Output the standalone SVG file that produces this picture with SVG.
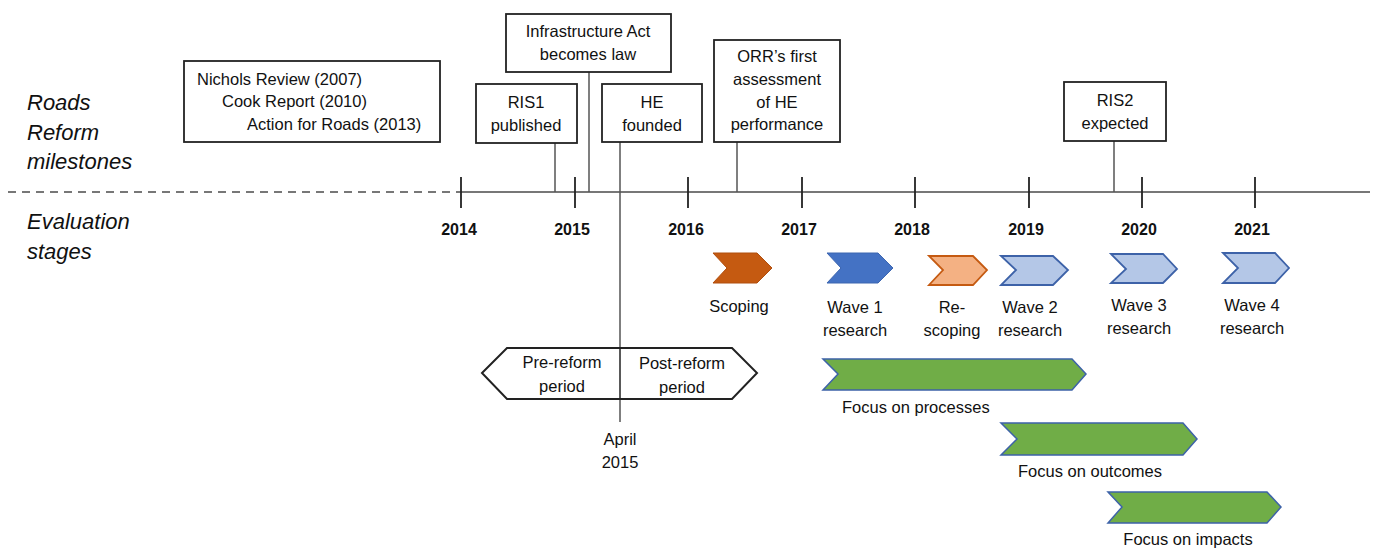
<svg xmlns="http://www.w3.org/2000/svg" width="1377" height="549" viewBox="0 0 1377 549">
<style>
text{font-family:"Liberation Sans",Arial,sans-serif;font-size:16.5px;fill:#111;}
.side{font-style:italic;font-size:22px;}
.yr{font-weight:bold;font-size:16px;text-anchor:middle;}
.c{text-anchor:middle;}
.box{fill:#fff;stroke:#222;stroke-width:1.8;}
.lead{stroke:#555;stroke-width:1.5;fill:none;}
.tick{stroke:#222;stroke-width:1.8;}
.green{fill:#70AD47;stroke:#3D62A8;stroke-width:1.5;}
.light{fill:#B4C7E7;stroke:#3D62A8;stroke-width:1.8;}
</style>
<rect width="1377" height="549" fill="#fff"/>
<g id="side-labels">
<text class="side" x="27" y="110">Roads</text>
<text class="side" x="27" y="140">Reform</text>
<text class="side" x="27" y="169">milestones</text>
<text class="side" x="27" y="229">Evaluation</text>
<text class="side" x="27" y="259">stages</text>
</g>
<g id="axis">
<line x1="8" y1="192" x2="460" y2="192" stroke="#777" stroke-width="2" stroke-dasharray="8,6"/>
<line x1="460" y1="192" x2="1370" y2="192" stroke="#777" stroke-width="2"/>
<line class="tick" x1="461" y1="177" x2="461" y2="208"/>
<line class="tick" x1="575" y1="177" x2="575" y2="208"/>
<line class="tick" x1="688" y1="177" x2="688" y2="208"/>
<line class="tick" x1="802" y1="177" x2="802" y2="208"/>
<line class="tick" x1="915" y1="177" x2="915" y2="208"/>
<line class="tick" x1="1029" y1="177" x2="1029" y2="208"/>
<line class="tick" x1="1142" y1="177" x2="1142" y2="208"/>
<line class="tick" x1="1255" y1="177" x2="1255" y2="208"/>
<text class="yr" x="459" y="235">2014</text>
<text class="yr" x="572" y="235">2015</text>
<text class="yr" x="686" y="235">2016</text>
<text class="yr" x="799" y="235">2017</text>
<text class="yr" x="912" y="235">2018</text>
<text class="yr" x="1026" y="235">2019</text>
<text class="yr" x="1139" y="235">2020</text>
<text class="yr" x="1252" y="235">2021</text>
</g>
<g id="connectors">
<line class="lead" x1="555" y1="143" x2="555" y2="192"/>
<line class="lead" x1="589" y1="72" x2="589" y2="192"/>
<line class="lead" x1="620" y1="142" x2="620" y2="422" stroke="#666"/>
<line class="lead" x1="737" y1="142" x2="737" y2="192"/>
<line class="lead" x1="1114" y1="141" x2="1114" y2="192"/>
</g>
<g id="nichols">
<rect class="box" x="184" y="61" width="256" height="81"/>
<text x="197" y="85">Nichols Review (2007)</text>
<text x="222" y="107">Cook Report (2010)</text>
<text x="247" y="130">Action for Roads (2013)</text>
</g>
<g id="ris1">
<rect class="box" x="476" y="84" width="101" height="59"/>
<text class="c" x="526" y="108">RIS1</text>
<text class="c" x="526" y="131">published</text>
</g>
<g id="infra-act">
<rect class="box" x="506" y="14" width="165" height="58"/>
<text class="c" x="588" y="37">Infrastructure Act</text>
<text class="c" x="588" y="60">becomes law</text>
</g>
<g id="he-founded">
<rect class="box" x="602" y="84" width="100" height="58"/>
<text class="c" x="652" y="108">HE</text>
<text class="c" x="652" y="131">founded</text>
</g>
<g id="orr">
<rect class="box" x="714" y="40" width="126" height="102"/>
<text class="c" x="777" y="62">ORR’s first</text>
<text class="c" x="777" y="85">assessment</text>
<text class="c" x="777" y="108">of HE</text>
<text class="c" x="777" y="130">performance</text>
</g>
<g id="ris2">
<rect class="box" x="1064" y="82" width="102" height="59"/>
<text class="c" x="1115" y="106">RIS2</text>
<text class="c" x="1115" y="129">expected</text>
</g>
<g id="reform-period">
<polygon points="482,373 507,348 732,348 757,373 732,399 507,399" fill="#fff" stroke="#222" stroke-width="2"/>
<line x1="620" y1="348" x2="620" y2="399" stroke="#222" stroke-width="1.5"/>
<text class="c" x="562" y="368">Pre-reform</text>
<text class="c" x="562" y="392">period</text>
<text class="c" x="682" y="369">Post-reform</text>
<text class="c" x="682" y="393">period</text>
</g>
<g id="april-2015">
<text class="c" x="620" y="445">April</text>
<text class="c" x="620" y="468">2015</text>
</g>
<g id="scoping">
<polygon points="713,253 757,253 772,268 757,283 713,283 727,268" fill="#C55A11" stroke="#B04E0E" stroke-width="1"/>
<text class="c" x="739" y="312">Scoping</text>
</g>
<g id="wave1">
<polygon points="827,253 878,253 893,268 878,283 827,283 841,268" fill="#4472C4" stroke="#3D66B0" stroke-width="1"/>
<text class="c" x="855" y="313">Wave 1</text>
<text class="c" x="855" y="336">research</text>
</g>
<g id="rescoping">
<polygon points="929,256 973,256 987,270 973,285 929,285 943,270" fill="#F4B183" stroke="#C55A11" stroke-width="1.8"/>
<text class="c" x="952" y="313">Re-</text>
<text class="c" x="952" y="336">scoping</text>
</g>
<g id="wave2">
<polygon class="light" points="1001,256 1053,256 1068,270 1053,285 1001,285 1016,270"/>
<text class="c" x="1030" y="313">Wave 2</text>
<text class="c" x="1030" y="336">research</text>
</g>
<g id="wave3">
<polygon class="light" points="1111,254 1163,254 1177,269 1163,283 1111,283 1126,269"/>
<text class="c" x="1139" y="311">Wave 3</text>
<text class="c" x="1139" y="334">research</text>
</g>
<g id="wave4">
<polygon class="light" points="1223,253 1275,253 1289,268 1275,283 1223,283 1238,268"/>
<text class="c" x="1252" y="311">Wave 4</text>
<text class="c" x="1252" y="334">research</text>
</g>
<g id="focus-processes">
<polygon class="green" points="823,359 1072,359 1086,374 1072,390 823,390 838,374"/>
<text x="842" y="413">Focus on processes</text>
</g>
<g id="focus-outcomes">
<polygon class="green" points="1001,423 1183,423 1197,439 1183,455 1001,455 1017,439"/>
<text class="c" x="1090" y="477">Focus on outcomes</text>
</g>
<g id="focus-impacts">
<polygon class="green" points="1108,492 1267,492 1281,507 1267,523 1108,523 1122,507"/>
<text class="c" x="1188" y="545">Focus on impacts</text>
</g>
</svg>
